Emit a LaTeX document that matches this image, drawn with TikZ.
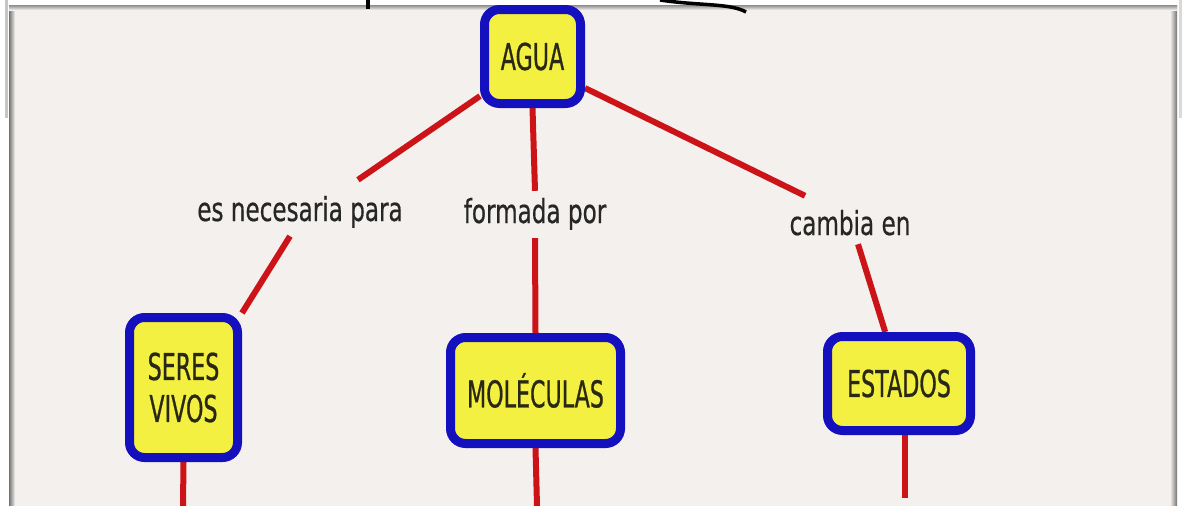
\documentclass[tikz,border=0pt]{standalone}
\usepackage{fontspec}
\setmainfont{DejaVu Sans}
\newfontfamily\boxfont{DejaVu Sans}[FakeStretch=0.6,FakeBold=0.6]
\newfontfamily\lblfont{DejaVu Sans}[FakeStretch=0.7,FakeBold=0.5]
\pgfdeclarelayer{bglayer}
\pgfdeclarelayer{edgelayer}
\pgfdeclarelayer{nodelayer}
\pgfsetlayers{bglayer,edgelayer,nodelayer,main}
\definecolor{panelgray}{RGB}{243,240,237}
\definecolor{boxyellow}{RGB}{244,240,66}
\definecolor{boxblue}{RGB}{20,16,190}
\definecolor{linkred}{RGB}{204,20,24}
\definecolor{inkdark}{RGB}{40,40,20}
\tikzstyle{none}=[inner sep=0pt]
\tikzstyle{concept}=[draw=boxblue,fill=boxyellow,line width=9pt,rounded corners=15pt,text=inkdark,font=\boxfont\fontsize{37}{42}\selectfont,align=center,inner sep=0pt]
\tikzstyle{phrase}=[inner sep=8pt,text=black!85,font=\lblfont\fontsize{33}{35}\selectfont,text height=24pt,text depth=7pt]
\tikzstyle{link}=[draw=linkred,line width=6pt]

\begin{document}
\begin{tikzpicture}[x=1pt,y=-1pt]
	\useasboundingbox (0,0) rectangle (1184,506);
	\begin{pgfonlayer}{bglayer}
		\fill [white] (0,0) rectangle (1184,506);
		\fill [gray!45] (5,0) rectangle (7.5,118);
		\fill [gray!30] (1179,0) rectangle (1182,118);
		\fill [panelgray] (9,5) rectangle (1177,506);
		\shade [left color=black!55,right color=panelgray] (9,5) rectangle (15,506);
		\shade [left color=panelgray,right color=black!55] (1170,5) rectangle (1177,506);
		\shade [top color=black!45,bottom color=panelgray] (9,5) rectangle (1177,10);
		\draw [line width=3.5pt] (368,0) -- (368,9);
		\draw [line width=3.5pt] (660,0) .. controls (700,6) and (730,3) .. (746,12);
	\end{pgfonlayer}
	\begin{pgfonlayer}{nodelayer}
		\node [style=concept,minimum width=96pt,minimum height=94pt] (0) at (532.5,56.5) {AGUA};
		\node [style=phrase,anchor=base] (1) at (300,221) {es necesaria para};
		\node [style=phrase,anchor=base] (2) at (535,223) {formada por};
		\node [style=phrase,anchor=base] (3) at (850,235) {cambia en};
		\node [style=concept,minimum width=108pt,minimum height=140pt] (4) at (183.5,387.5) {SERES\\VIVOS};
		\node [style=concept,minimum width=170pt,minimum height=106pt] (5) at (535.5,390.5) {MOLÉCULAS};
		\node [style=concept,minimum width=143pt,minimum height=94pt] (6) at (899,383.5) {ESTADOS};
		\coordinate (7) at (183,506);
		\coordinate (8) at (537,506);
		\coordinate (9) at (905,498);
	\end{pgfonlayer}
	\begin{pgfonlayer}{edgelayer}
		\draw [style=link] (0.217) to ([xshift=58pt,yshift=9pt]1.north);
		\draw [style=link] ([xshift=-10pt]1.south) to (4.north east);
		\draw [style=link] (0.south) to (2.north);
		\draw [style=link] (2.south) to (5.north);
		\draw [style=link] (0.329) to ([xshift=-45pt,yshift=7pt]3.north);
		\draw [style=link] ([xshift=8pt,yshift=6pt]3.south) to (6.105);
		\draw [style=link] (4.south) to (7);
		\draw [style=link] (5.south) to (8);
		\draw [style=link] ([xshift=6pt]6.south) to (9);
	\end{pgfonlayer}
\end{tikzpicture}
\end{document}
